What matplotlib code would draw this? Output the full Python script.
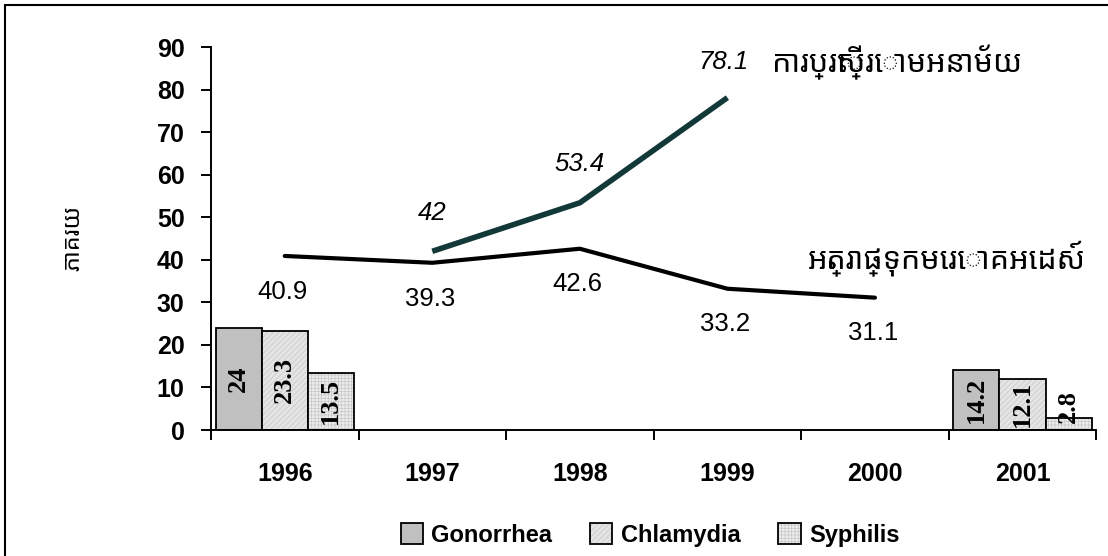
import matplotlib.pyplot as plt
import numpy as np
from matplotlib.patches import Rectangle

# Data
years = ['1996', '1997', '1998', '1999', '2000', '2001']
hiv = [40.9, 39.3, 42.6, 33.2, 31.1, None]            # HIV prevalence
condom = [None, 42, 53.4, 78.1, None, None]           # condom use
gonorrhea = [24, 0, 0, 0, 0, 14.2]
chlamydia = [23.3, 0, 0, 0, 0, 12.1]
syphilis = [13.5, 0, 0, 0, 0, 2.8]
sti_names = ['Gonorrhea', 'Chlamydia', 'Syphilis']

hiv_label = 'អត្រាផ្ទុកមេរោគអេដស៍'
condom_label = 'ការប្រើស្រោមអនាម័យ'
y_label = 'ភាគរយ'

KH = ['Noto Sans Khmer', 'Khmer OS', 'Noto Serif Khmer', 'DejaVu Sans']
plt.rcParams['font.family'] = ['Liberation Sans', 'DejaVu Sans']
plt.rcParams['hatch.linewidth'] = 0.5

fig = plt.figure(figsize=(11.08, 5.56), dpi=100)
ax = fig.add_axes([0.1904, 0.2266, 0.799, 0.6888])

x = np.arange(len(years))
w = 0.3125
bar_sets = [gonorrhea, chlamydia, syphilis]
fills = ['#c0c0c0', '#e4e4e4', '#ececec']
hatches = [None, '//////', '+++++']
handles = []
for k, (vals, fc, h) in enumerate(zip(bar_sets, fills, hatches)):
    vals = np.array(vals, dtype=float)
    keep = vals > 0
    bars = ax.bar(x[keep] + (k - 1) * w, vals[keep], width=w, color=fc,
                  edgecolor='black', linewidth=1.3, hatch=h, label=sti_names[k])
    for b in bars:
        b._hatch_color = (0.78, 0.78, 0.78, 1)
    handles.append(bars)
    for xi, v in zip(x[keep] + (k - 1) * w, vals[keep]):
        ax.text(xi, max(v / 2, 5.6), f'{v:g}', rotation=90,
                ha='center', va='center',
                family='Liberation Serif', fontweight='bold', fontsize=19)

# lines
hx = [i for i, v in enumerate(hiv) if v is not None]
hy = [v for v in hiv if v is not None]
ax.plot(hx, hy, color='black', lw=3.0, solid_capstyle='round', zorder=3)
cx = [i for i, v in enumerate(condom) if v is not None]
cy = [v for v in condom if v is not None]
ax.plot(cx, cy, color='#123838', lw=4.0, solid_capstyle='butt', zorder=3)

for xi, v in zip(hx, hy):
    ax.text(xi - 0.015, v - 8.4, f'{v:g}', ha='center', va='center', fontsize=18.5)
for xi, v in zip(cx, cy):
    ax.text(xi - (0.03 if v > 70 else 0.0), v + (8.4 if v > 70 else 9.0), f'{v:g}',
            ha='center', va='center', fontsize=18.5, style='italic')

ax.text(3.30, 86.5, condom_label, ha='left', va='center', fontsize=22, family=KH)
ax.text(3.546, 40.4, hiv_label, ha='left', va='center', fontsize=22, family=KH)

ax.set_xlim(-0.5, 5.5)
ax.set_ylim(0, 90)
ax.set_yticks(range(0, 91, 10))
ax.set_xticks(np.arange(-0.5, 5.6, 1))
ax.set_xticklabels([])
ax.set_xticks(x, minor=True)
ax.set_xticklabels(years, minor=True)
ax.tick_params(axis='x', which='minor', length=0, pad=23, labelsize=18)
ax.tick_params(axis='x', which='major', length=7, width=1.4, direction='out')
ax.tick_params(axis='y', length=7, width=1.4, pad=12, labelsize=18)
for lab in ax.get_xticklabels(minor=True) + ax.get_yticklabels():
    lab.set_fontweight('bold')
for s in ['top', 'right']:
    ax.spines[s].set_visible(False)
for s in ['left', 'bottom']:
    ax.spines[s].set_linewidth(1.4)

fig.text(0.0668, 0.572, y_label, rotation=90, ha='center', va='center',
         fontsize=17, fontweight='bold', family=KH)

fig.legend(handles, sti_names, loc='center', bbox_to_anchor=(650 / 1108, 0.038),
           ncol=3, frameon=False, handlelength=0.95, handleheight=0.95,
           handletextpad=0.35, columnspacing=1.6, borderpad=0, borderaxespad=0,
           prop={'weight': 'bold', 'size': 17})

# frame around the whole chart (right and bottom edges run off the picture)
fig.patches.append(Rectangle((0.0045, -0.02), 1.02, 1.011, transform=fig.transFigure,
                             fill=False, edgecolor='black', linewidth=1.5))

fig.savefig('out.png', dpi=100)
